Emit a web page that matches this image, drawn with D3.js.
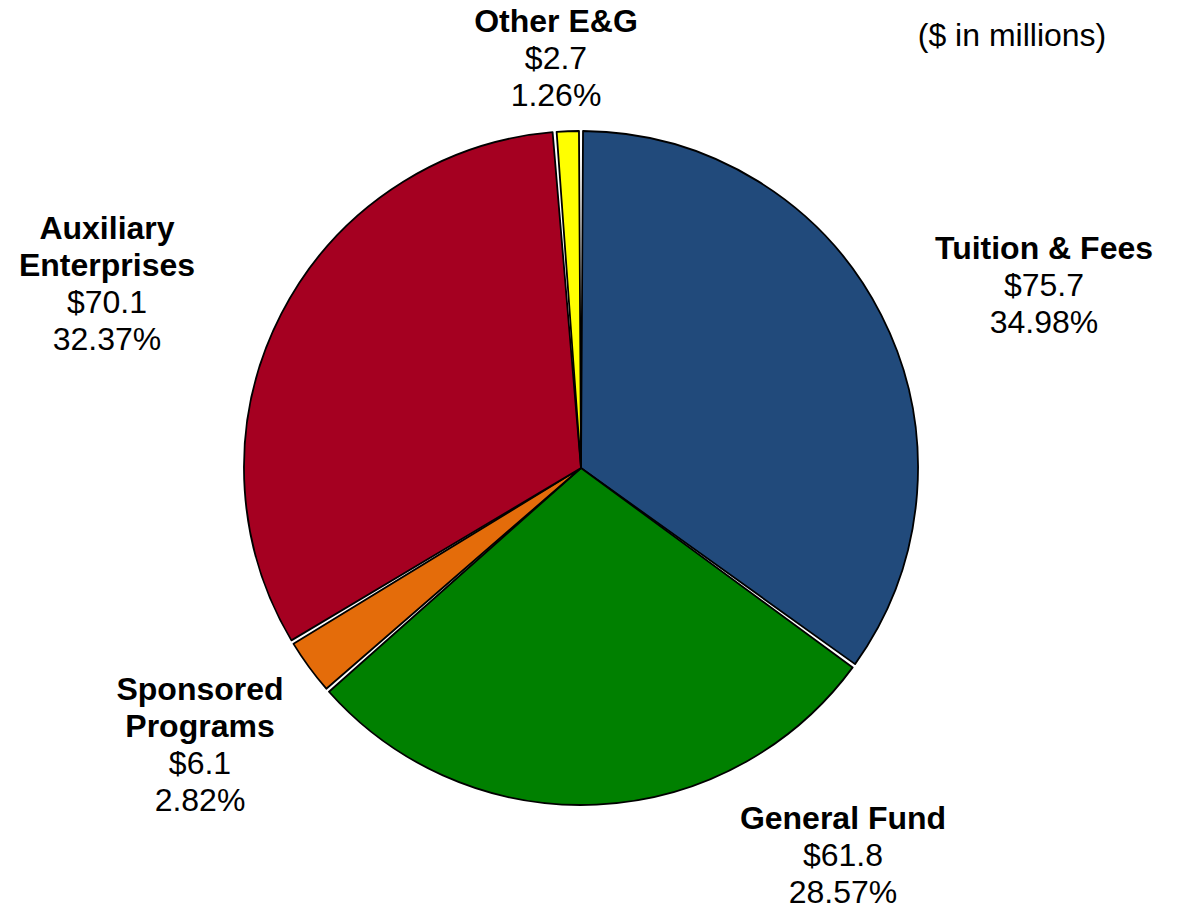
<!DOCTYPE html>
<html>
<head>
<meta charset="utf-8">
<script src="https://cdn.jsdelivr.net/npm/d3@7"></script>
<style>
  body { margin: 0; background: #fff; }
  text { font-family: "Liberation Sans", Arial, sans-serif; fill: #000; }
</style>
</head>
<body>
<div id="chart"></div>
<script>
var categories = ["Tuition & Fees", "General Fund", "Sponsored Programs", "Auxiliary Enterprises", "Other E&G"];
var amounts = [75.7, 61.8, 6.1, 70.1, 2.7];
var percents = ["34.98%", "28.57%", "2.82%", "32.37%", "1.26%"];
var colors = ["#214a7b", "#008000", "#e46c0a", "#a50021", "#ffff00"];
// label lines, split like the original
var nameLines = [["Tuition & Fees"], ["General Fund"], ["Sponsored", "Programs"], ["Auxiliary", "Enterprises"], ["Other E&G"]];
var labelPos = [[1044, 259], [843, 829], [200, 700], [107, 239], [556, 32]];

var width = 1179, height = 911;
var cx = 581, cy = 468, radius = 337;

var svg = d3.select("#chart").append("svg")
    .attr("width", width)
    .attr("height", height);

var pie = d3.pie().sort(null).value(function(d) { return d; });
var arc = d3.arc().innerRadius(0).outerRadius(radius)
    .padAngle(0.012);

var arcs = pie(amounts);

var g = svg.append("g").attr("transform", "translate(" + cx + "," + cy + ")");

g.selectAll("path")
  .data(arcs)
  .enter().append("path")
    .attr("d", arc)
    .attr("fill", function(d, i) { return colors[i]; })
    .attr("stroke", "#000")
    .attr("stroke-width", 1.8)
    .attr("stroke-linejoin", "round");

var fs = 32, lh = 37;
var labels = svg.append("g").attr("font-size", fs).attr("text-anchor", "middle");

categories.forEach(function(c, i) {
  var x = labelPos[i][0], y = labelPos[i][1];
  var lines = nameLines[i].map(function(t) { return { t: t, bold: true }; })
    .concat([{ t: "$" + d3.format(".1f")(amounts[i]), bold: false }, { t: percents[i], bold: false }]);
  lines.forEach(function(l, j) {
    labels.append("text")
      .attr("x", x)
      .attr("y", y + j * lh)
      .attr("font-weight", l.bold ? "bold" : "normal")
      .text(l.t);
  });
});

svg.append("text")
  .attr("x", 1012)
  .attr("y", 46)
  .attr("text-anchor", "middle")
  .attr("font-size", fs)
  .text("($ in millions)");
</script>
</body>
</html>
